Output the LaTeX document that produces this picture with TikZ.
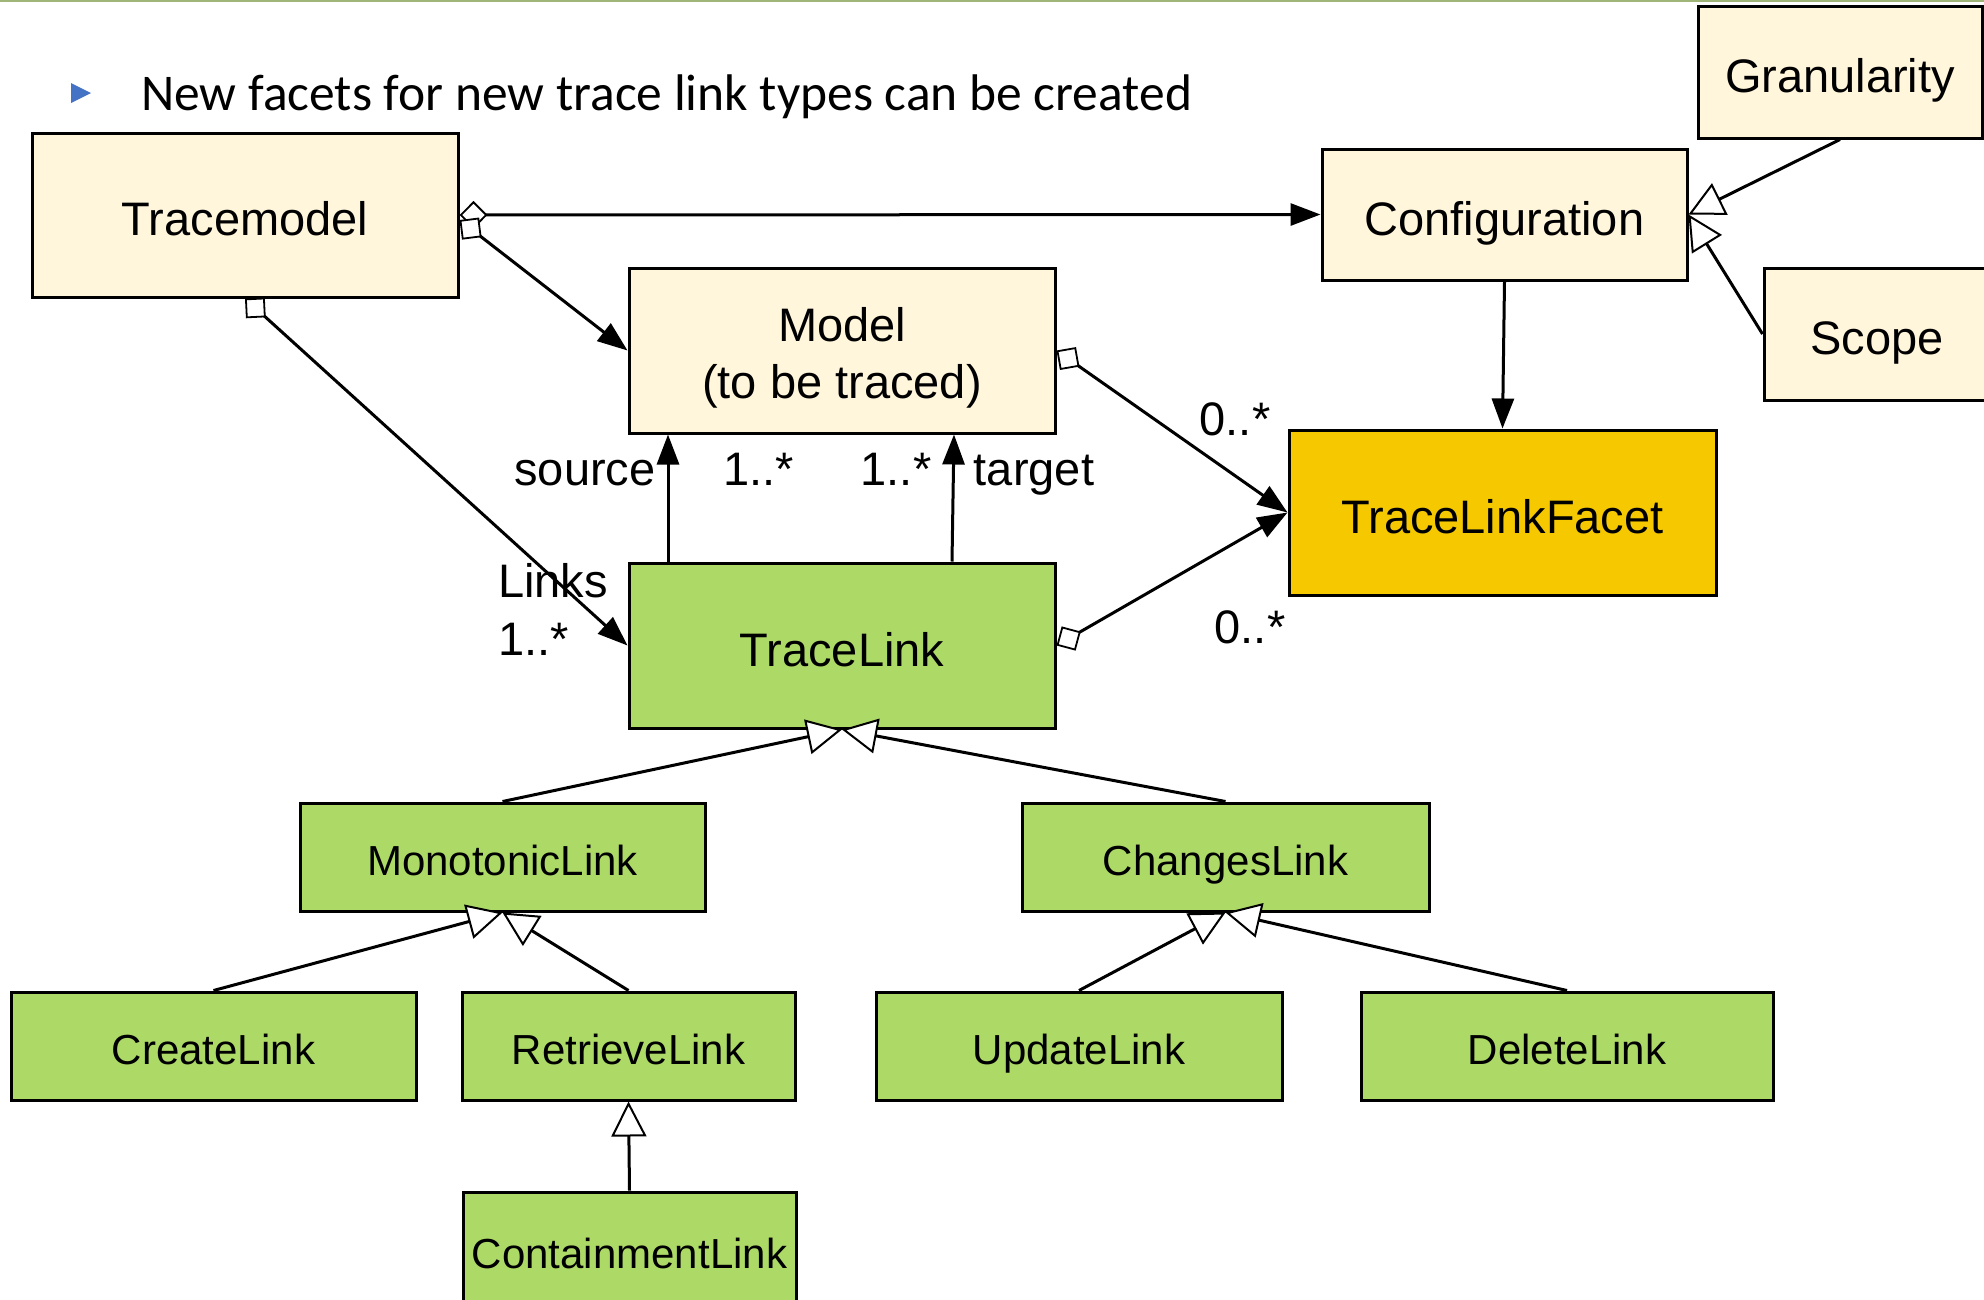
\documentclass[tikz,border=0pt]{standalone}
\usepackage{fontspec}
\setmainfont{Liberation Sans}
\newfontfamily\slidefont{Carlito}
\usetikzlibrary{arrows.meta,calc}

\definecolor{creamfill}{RGB}{255,246,220}
\definecolor{linkgreen}{RGB}{173,217,102}
\definecolor{facetgold}{RGB}{245,200,0}
\definecolor{bulletblue}{RGB}{68,114,196}
\definecolor{ruleolive}{RGB}{160,182,120}

\tikzset{
  cls/.style={draw=black, line width=3pt, inner sep=0pt, align=center,
              font=\fontsize{47}{57}\selectfont},
  oneline/.style={text height=41.5pt, text depth=0pt},
  basecls/.style={cls, fill=creamfill},
  facetcls/.style={cls, oneline, fill=facetgold},
  linkcls/.style={cls, oneline, fill=linkgreen},
  sublink/.style={linkcls, font=\fontsize{42}{50}\selectfont, text height=37pt},
  role/.style={anchor=base, inner sep=0pt, font=\fontsize{47}{57}\selectfont},
  assoc/.style={line width=3pt, arrows={-Triangle[length=30pt,width=22pt]}},
  aggassoc/.style={line width=3pt,
     arrows={Diamond[fill=white,length=28pt,width=28pt,line width=1.8pt]-Triangle[length=30pt,width=22pt]}},
  gen/.style={line width=3pt,
     arrows={-Triangle[fill=white,length=35pt,width=35pt,line width=2pt]}},
}

\begin{document}
\begin{tikzpicture}[x=1pt,y=-1pt]
\useasboundingbox (0,0) rectangle (1984,1299);

% slide header rule and bullet line
\draw[ruleolive, line width=1.5pt] (0,0.75) -- (1984,0.75);
\fill[bulletblue] (71,83) -- (91,93) -- (71,103) -- cycle;
\node[anchor=base west, inner sep=0pt, font=\slidefont\fontsize{51.5}{60}\selectfont]
  (headline) at (141,110) {New facets for new trace link types can be created};

% classes
\node[basecls, oneline, minimum width=426pt, minimum height=164pt] (tm) at (245,215) {Tracemodel};
\node[basecls, minimum width=426pt, minimum height=165pt] (model) at (842,350.5) {\rule{0pt}{49pt}Model\\(to be traced)};
\node[basecls, oneline, minimum width=365pt, minimum height=131pt] (conf) at (1504.5,214.5) {Configuration};
\node[basecls, oneline, minimum width=284pt, minimum height=132pt] (gran) at (1840,72) {Granularity};
\node[basecls, oneline, minimum width=226pt, minimum height=132pt] (scope) at (1877,334) {Scope};
\node[facetcls, minimum width=427pt, minimum height=165pt] (facet) at (1502.5,512.5) {TraceLinkFacet};
\node[linkcls, minimum width=426pt, minimum height=165pt] (tl) at (842,645.5) {TraceLink};

\node[sublink, minimum width=405pt, minimum height=108pt] (mono) at (502.5,857) {MonotonicLink};
\node[sublink, minimum width=407pt, minimum height=108pt] (chg) at (1225.5,857) {ChangesLink};
\node[sublink, minimum width=405pt, minimum height=108pt] (create) at (213.5,1046) {CreateLink};
\node[sublink, minimum width=333pt, minimum height=108pt] (retr) at (628.5,1046) {RetrieveLink};
\node[sublink, minimum width=406pt, minimum height=108pt] (upd) at (1079,1046) {UpdateLink};
\node[sublink, minimum width=412pt, minimum height=108pt] (del) at (1567,1046) {DeleteLink};
\node[sublink, minimum width=333pt, minimum height=116pt] (cont) at (629.5,1250) {ContainmentLink};

% associations
\draw[aggassoc] (tm.east) -- (conf.west);
\draw[aggassoc] ($(tm.east)+(0,5)$) -- (model.west);
\draw[aggassoc] (tm.south) -- (tl.west);
\draw[aggassoc] (model.east) -- (facet.west);
\draw[aggassoc] (tl.east) -- (facet.west);
\draw[assoc] ($(tl.north)+(-174,0)$) -- ($(model.south)+(-174,0)$);
\draw[assoc] ($(tl.north)+(110,0)$) -- ($(model.south)+(112,0)$);
\draw[assoc] (conf.south) -- (facet.north);

% generalizations
\draw[gen] (gran.south) -- (conf.east);
\draw[gen] (scope.west) -- (conf.east);
\draw[gen] (mono.north) -- (tl.south);
\draw[gen] (chg.north) -- (tl.south);
\draw[gen] (create.north) -- (mono.south);
\draw[gen] (retr.north) -- (mono.south);
\draw[gen] (upd.north) -- (chg.south);
\draw[gen] (del.north) -- (chg.south);
\draw[gen] (cont.north) -- (retr.south);

% role names and multiplicities
\node[role] (srcrole) at (585,485) {source};
\node[role] (srcmult) at (759,485) {1..*};
\node[role] (tgtmult) at (896,485) {1..*};
\node[role] (tgtrole) at (1034,485) {target};
\node[role] (mfacet) at (1235,435) {0..*};
\node[role] (lfacet) at (1250,643) {0..*};
\node[role, anchor=base west] (linksrole) at (498,597) {Links};
\node[role, anchor=base west] (linksmult) at (498,655) {1..*};
\end{tikzpicture}
\end{document}
